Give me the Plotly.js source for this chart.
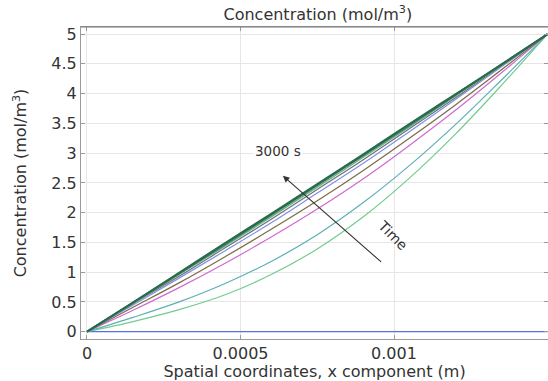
<!DOCTYPE html>
<html>
<head>
<meta charset="utf-8">
<script src="https://cdn.plot.ly/plotly-3.0.1.min.js"></script>
<style>html,body{margin:0;padding:0;background:#fff;}#chart{width:548px;height:381px;}</style>
</head>
<body>
<div id="chart"></div>
<script>
// x positions (m)
const xPos = [0, 0.00015, 0.0003, 0.00045, 0.0006, 0.00075, 0.0009, 0.00105, 0.0012, 0.00135, 0.0015];
// concentration profiles (mol/m^3), from t = 0 s to t = 3000 s
const c0    = [0, 0, 0, 0, 0, 0, 0, 0, 0, 0, 0];
const c300  = [0, 0.17, 0.37, 0.62, 0.96, 1.39, 1.93, 2.58, 3.32, 4.14, 5];
const c600  = [0, 0.24, 0.50, 0.81, 1.18, 1.63, 2.17, 2.79, 3.48, 4.23, 5];
const c900  = [0, 0.36, 0.74, 1.15, 1.59, 2.06, 2.57, 3.13, 3.72, 4.35, 5];
const c1200 = [0, 0.41, 0.82, 1.26, 1.72, 2.20, 2.71, 3.25, 3.81, 4.40, 5];
const c1500 = [0, 0.45, 0.90, 1.36, 1.83, 2.33, 2.83, 3.36, 3.90, 4.45, 5];
const c1800 = [0, 0.47, 0.93, 1.41, 1.89, 2.39, 2.89, 3.41, 3.93, 4.47, 5];
const c2100 = [0, 0.48, 0.96, 1.44, 1.93, 2.43, 2.93, 3.44, 3.96, 4.48, 5];
const c2400 = [0, 0.49, 0.97, 1.46, 1.96, 2.46, 2.96, 3.46, 3.97, 4.49, 5];
const c2700 = [0, 0.49, 0.98, 1.48, 1.97, 2.47, 2.97, 3.48, 3.98, 4.49, 5];
const c3000 = [0, 0.49, 0.99, 1.49, 1.98, 2.48, 2.98, 3.49, 3.99, 4.49, 5];

const profiles = [c0, c300, c600, c900, c1200, c1500, c1800, c2100, c2400, c2700, c3000];
const colors = ['#5a6fe0', '#72cc8e', '#5bb0b4', '#cf6acf', '#7b6a48', '#7f8fe8', '#707070', '#62b07e', '#3f8c7c', '#2f6f52', '#2c6a4c'];
const widths = [1.2, 1.2, 1.2, 1.2, 1.2, 1.2, 1.2, 1.3, 1.5, 1.8, 2.0];

const xTicks = [0, 0.0005, 0.001];
const xTickText = ['0', '0.0005', '0.001'];
const yTicks = [0, 0.5, 1, 1.5, 2, 2.5, 3, 3.5, 4, 4.5, 5];
const yTickText = ['0', '0.5', '1', '1.5', '2', '2.5', '3', '3.5', '4', '4.5', '5'];

const traces = profiles.map((p, i) => ({
  x: xPos, y: p, type: 'scatter', mode: 'lines',
  line: {color: colors[i], width: widths[i], shape: i === 0 ? 'linear' : 'spline', smoothing: 1},
  hoverinfo: 'skip', showlegend: false
}));

const fam = 'DejaVu Sans, sans-serif';
const tickFont = {family: fam, size: 16, color: '#333'};
const axFont = {family: fam, size: 16, color: '#333'};
const layout = {
  width: 548, height: 381,
  margin: {l: 81, r: 0, t: 27, b: 42},
  paper_bgcolor: '#fff', plot_bgcolor: '#fff',
  font: tickFont,
  showlegend: false,
  title: {text: 'Concentration (mol/m<sup>3</sup>)', font: {family: fam, size: 16, color: '#333'}, x: 0.58, xanchor: 'center', y: 0.962, yanchor: 'middle'},
  xaxis: {
    range: [-0.0000195, 0.0015016], tickvals: xTicks, ticktext: xTickText,
    showgrid: true, gridcolor: '#e6e6e6', gridwidth: 1, zeroline: false,
    showline: true, linecolor: '#9a9a9a', linewidth: 1, mirror: 'ticks',
    ticks: 'inside', ticklen: 4, tickcolor: '#9a9a9a', tickfont: tickFont,
    title: {text: 'Spatial coordinates, x component (m)', font: axFont, standoff: 0}
  },
  yaxis: {
    range: [-0.123, 5.12], tickvals: yTicks, ticktext: yTickText,
    showgrid: true, gridcolor: '#e6e6e6', gridwidth: 1, zeroline: false,
    showline: true, linecolor: '#9a9a9a', linewidth: 1, mirror: 'ticks',
    ticks: 'inside', ticklen: 4, tickcolor: '#9a9a9a', tickfont: tickFont,
    title: {text: 'Concentration (mol/m<sup>3</sup>)', font: axFont, standoff: 20}
  },
  shapes: [
    {type: 'line', xref: 'paper', yref: 'paper', x0: 0, x1: 1, y0: 1, y1: 1, line: {color: '#777', width: 1.2}}
  ],
  annotations: [
    {x: 0.000638, y: 2.62, ax: 0.000963, ay: 1.15, axref: 'x', ayref: 'y', xref: 'x', yref: 'y',
     showarrow: true, arrowhead: 2, arrowsize: 1.2, arrowwidth: 1.1, arrowcolor: '#333', text: ''},
    {x: 0.000622, y: 3.04, xref: 'x', yref: 'y', text: '3000 s', showarrow: false,
     font: {family: fam, size: 13.5, color: '#333'}, bgcolor: '#fff'},
    {x: 0.000995, y: 1.62, xref: 'x', yref: 'y', text: 'Time', showarrow: false, textangle: 45,
     font: {family: fam, size: 14, color: '#333'}}
  ]
};

Plotly.newPlot('chart', traces, layout, {staticPlot: true, displayModeBar: false});
</script>
</body>
</html>
